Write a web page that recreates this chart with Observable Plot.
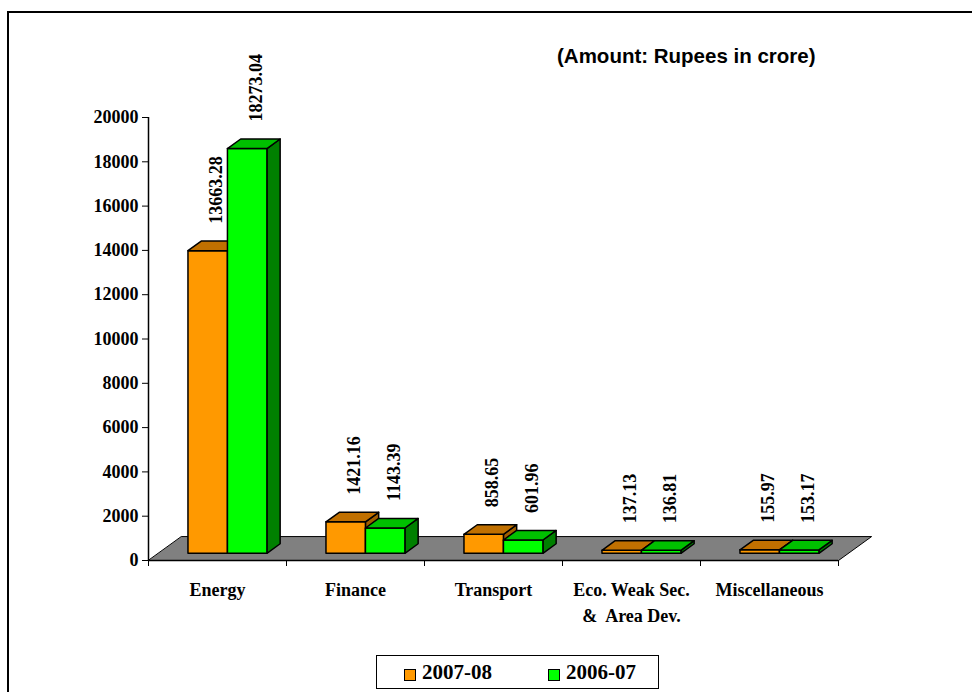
<!DOCTYPE html>
<html>
<head>
<meta charset="utf-8">
<script src="https://cdn.jsdelivr.net/npm/d3@7"></script>
<script src="https://cdn.jsdelivr.net/npm/@observablehq/plot@0.6"></script>
<style>
  body { margin: 0; background: #fff; }
  #wrap { position: relative; width: 972px; height: 692px; overflow: hidden; background: #fff; }
  #wrap svg { position: absolute; left: 0; top: 0; }
  #frame { position: absolute; left: 7px; top: 11px; width: 1000px; height: 720px;
           border-left: 2px solid #000; border-top: 2px solid #000; pointer-events: none; }
  #title { position: absolute; left: 557px; top: 44px; font: bold 20.5px "Liberation Sans", Arial, sans-serif;
           white-space: nowrap; color: #000; }
  #legend { position: absolute; left: 376px; top: 655px; width: 283px; height: 34px;
            border: 1.5px solid #000; background: #fff; box-sizing: border-box; }
  .lg-sw { position: absolute; width: 12px; height: 12px; border: 1.5px solid #000; box-sizing: border-box; top: 13px; }
  .lg-tx { position: absolute; top: 3px; font: bold 21px "Liberation Serif", "Times New Roman", serif; line-height: 26px; }
</style>
</head>
<body>
<div id="wrap">
  <div id="frame"></div>
  <div id="title"></div>
  <div id="legend"></div>
</div>
<script>
// ---------- data ----------
const titleText = "(Amount: Rupees in crore)";
const categories = ["Energy", "Finance", "Transport", "Eco. Weak Sec.\n&  Area Dev.", "Miscellaneous"];
const seriesNames = ["2007-08", "2006-07"];
const values0708 = [13663.28, 1421.16, 858.65, 137.13, 155.97];
const values0607 = [18273.04, 1143.39, 601.96, 136.81, 153.17];
const yTicks = [0, 2000, 4000, 6000, 8000, 10000, 12000, 14000, 16000, 18000, 20000];

// ---------- styles ----------
const frontColors = ["#FF9900", "#00FF00"];
const topColors   = ["#C07000", "#00C000"];
const sideColors  = ["#A05E00", "#008000"];
const floorColor  = "#808080";

// 3-D projection constants (floor depth, in x-category units and y-value units)
const DEPTH_X = 0.24;   // fraction of a category width
const DEPTH_Y = 1080;   // value units
const BAR_FRONT = 0.3, BAR_BACK = 0.7; // bar position within floor depth
const BAR_W = 0.286;    // width of each bar in category units

const seriesValues = [values0708, values0607];

const marks = [];

// floor
const floorPts = [
  {x: 0, y: 0}, {x: categories.length, y: 0},
  {x: categories.length + DEPTH_X, y: DEPTH_Y}, {x: DEPTH_X, y: DEPTH_Y}
];
marks.push(Plot.line(floorPts, {x: "x", y: "y", curve: "linear-closed", fill: floorColor, stroke: "#000", strokeWidth: 1}));

const labelData = [];
categories.forEach((cat, i) => {
  const c = i + 0.5;
  seriesValues.forEach((vals, s) => {
    const v = vals[i];
    const x0 = s === 0 ? c - BAR_W : c;
    const x1 = x0 + BAR_W;
    const fx = BAR_FRONT * DEPTH_X, fy = BAR_FRONT * DEPTH_Y;
    const bx = BAR_BACK * DEPTH_X, by = BAR_BACK * DEPTH_Y;
    const front = [{x: x0 + fx, y: fy}, {x: x1 + fx, y: fy}, {x: x1 + fx, y: fy + v}, {x: x0 + fx, y: fy + v}];
    const top = [{x: x0 + fx, y: fy + v}, {x: x1 + fx, y: fy + v}, {x: x1 + bx, y: by + v}, {x: x0 + bx, y: by + v}];
    const side = [{x: x1 + fx, y: fy}, {x: x1 + bx, y: by}, {x: x1 + bx, y: by + v}, {x: x1 + fx, y: fy + v}];
    const common = {x: "x", y: "y", curve: "linear-closed", stroke: "#000", strokeWidth: 1.5, strokeLinejoin: "round"};
    marks.push(Plot.line(side, {...common, fill: sideColors[s]}));
    marks.push(Plot.line(front, {...common, fill: frontColors[s]}));
    marks.push(Plot.line(top, {...common, fill: topColors[s]}));
    labelData.push({x: (x0 + x1) / 2 + fx, y: fy + v, text: v.toFixed(2)});
  });
});

// axes
marks.push(Plot.axisY({ticks: yTicks, tickSize: 6, tickPadding: 4, tickFormat: d3.format("d"), label: null, stroke: "#000", fill: "#000"}));
marks.push(Plot.ruleX([0], {y1: 0, y2: yTicks[yTicks.length - 1], stroke: "#000", strokeWidth: 1.5}));
marks.push(Plot.axisX({ticks: d3.range(0, categories.length + 1), tickSize: 6, tickFormat: () => "", label: null, stroke: "#000"}));
marks.push(Plot.ruleY([0], {x1: 0, x2: categories.length, stroke: "#000", strokeWidth: 1.5}));

// category labels
marks.push(Plot.text(categories, {x: (d, i) => i + 0.5, y: 0, text: d => d, lineAnchor: "top", dy: 17, lineHeight: 1.45, fill: "#000"}));

// value labels
marks.push(Plot.text(labelData, {x: "x", y: "y", text: "text", rotate: -90, textAnchor: "start", dx: 9, dy: -27, fill: "#000"}));

const chart = Plot.plot({
  width: 972,
  height: 692,
  marginLeft: 148,
  marginRight: 134,
  marginTop: 117,
  marginBottom: 132,
  x: {domain: [0, categories.length], axis: null, label: null},
  y: {domain: [0, yTicks[yTicks.length - 1]], axis: null, label: null},
  style: {fontFamily: "'Liberation Serif', 'Times New Roman', serif", fontSize: "18px", fontWeight: "bold", background: "transparent", color: "#000"},
  marks
});

const wrap = document.getElementById("wrap");
wrap.insertBefore(chart, wrap.firstChild);
document.getElementById("title").textContent = titleText;

// legend
const legend = document.getElementById("legend");
const swLeft = [27, 171];
seriesNames.forEach((name, s) => {
  const sw = document.createElement("div");
  sw.className = "lg-sw";
  sw.style.left = swLeft[s] + "px";
  sw.style.background = frontColors[s];
  legend.appendChild(sw);
  const tx = document.createElement("div");
  tx.className = "lg-tx";
  tx.style.left = (swLeft[s] + 18) + "px";
  tx.textContent = name;
  legend.appendChild(tx);
});
</script>
</body>
</html>
